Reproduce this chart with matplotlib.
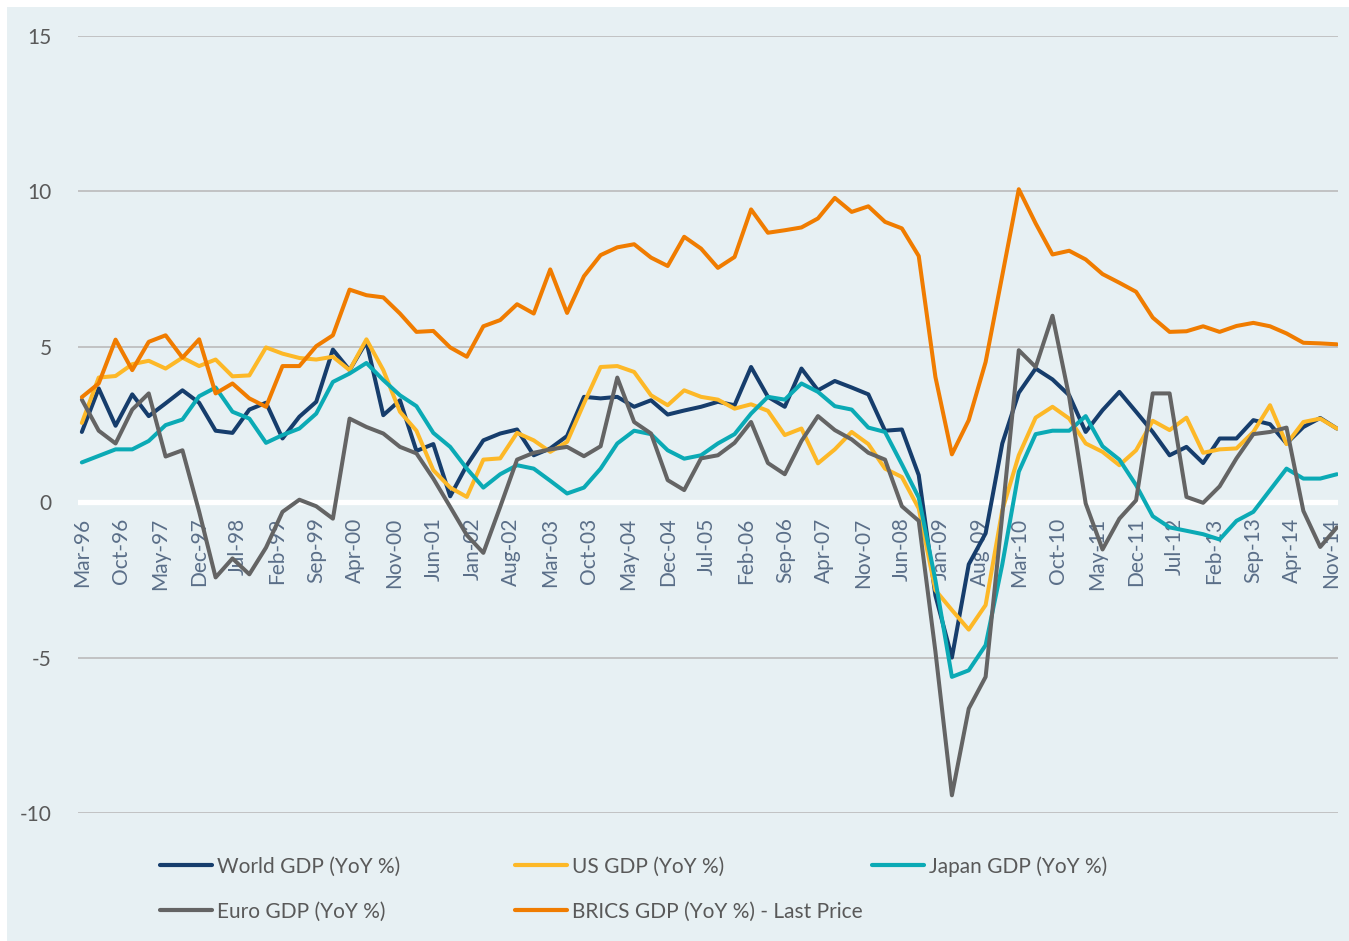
import matplotlib
matplotlib.use("Agg")
import matplotlib.pyplot as plt
from matplotlib.lines import Line2D
from matplotlib.patches import Rectangle
from matplotlib import font_manager
import pandas as pd

# ---------------- data ----------------
start_date = "1996-03-01"
n_points = 76
tick_labels = ["Mar-96", "Oct-96", "May-97", "Dec-97", "Jul-98", "Feb-99", "Sep-99",
               "Apr-00", "Nov-00", "Jun-01", "Jan-02", "Aug-02", "Mar-03", "Oct-03",
               "May-04", "Dec-04", "Jul-05", "Feb-06", "Sep-06", "Apr-07", "Nov-07",
               "Jun-08", "Jan-09", "Aug-09", "Mar-10", "Oct-10", "May-11", "Dec-11",
               "Jul-12", "Feb-13", "Sep-13", "Apr-14", "Nov-14"]
y_ticks = [-10, -5, 0, 5, 10, 15]

world = [2.26, 3.66, 2.46, 3.47, 2.77, 3.18, 3.60, 3.20, 2.30, 2.23,
         2.98, 3.20, 2.05, 2.75, 3.23, 4.91, 4.25, 5.16, 2.80, 3.28,
         1.65, 1.87, 0.19, 1.19, 1.99, 2.21, 2.34, 1.51, 1.73, 2.13,
         3.39, 3.34, 3.39, 3.07, 3.28, 2.82, 2.95, 3.07, 3.23, 3.12,
         4.35, 3.39, 3.07, 4.30, 3.60, 3.90, 3.69, 3.47, 2.30, 2.34,
         0.87, -3.00, -5.00, -2.00, -1.00, 1.89, 3.52, 4.30, 3.95, 3.44,
         2.26, 2.96, 3.55, 2.91, 2.26, 1.51, 1.78, 1.26, 2.05, 2.05,
         2.64, 2.51, 1.89, 2.42, 2.71, 2.37]
us = [2.55, 4.01, 4.06, 4.44, 4.55, 4.30, 4.65, 4.38, 4.59, 4.05,
      4.08, 4.98, 4.78, 4.64, 4.59, 4.68, 4.25, 5.24, 4.25, 2.91,
      2.30, 1.03, 0.47, 0.17, 1.37, 1.41, 2.23, 1.99, 1.62, 1.94,
      3.18, 4.35, 4.38, 4.19, 3.44, 3.12, 3.60, 3.39, 3.30, 3.01,
      3.15, 2.94, 2.16, 2.37, 1.25, 1.70, 2.26, 1.87, 1.08, 0.81,
      -0.20, -2.83, -3.47, -4.10, -3.31, -0.26, 1.51, 2.72, 3.07, 2.69,
      1.89, 1.62, 1.19, 1.67, 2.62, 2.32, 2.72, 1.59, 1.70, 1.73,
      2.26, 3.12, 1.87, 2.58, 2.69, 2.37]
japan = [1.28, 1.49, 1.70, 1.70, 1.97, 2.48, 2.66, 3.41, 3.69, 2.91,
         2.69, 1.91, 2.16, 2.37, 2.85, 3.87, 4.14, 4.48, 3.93, 3.44,
         3.09, 2.23, 1.78, 1.08, 0.47, 0.90, 1.19, 1.08, 0.69, 0.28,
         0.47, 1.08, 1.89, 2.30, 2.19, 1.67, 1.40, 1.51, 1.89, 2.19,
         2.85, 3.39, 3.30, 3.82, 3.55, 3.09, 2.98, 2.40, 2.26, 1.22,
         0.15, -2.51, -5.62, -5.41, -4.60, -2.00, 0.98, 2.19, 2.30, 2.30,
         2.77, 1.80, 1.37, 0.55, -0.45, -0.81, -0.92, -1.03, -1.20, -0.60,
         -0.31, 0.39, 1.08, 0.76, 0.76, 0.90]
euro = [3.30, 2.30, 1.89, 2.98, 3.50, 1.47, 1.67, -0.30, -2.42, -1.81,
        -2.32, -1.46, -0.31, 0.08, -0.13, -0.53, 2.69, 2.42, 2.21, 1.78,
        1.57, 0.76, -0.15, -1.06, -1.63, -0.15, 1.37, 1.59, 1.70, 1.78,
        1.48, 1.80, 4.01, 2.58, 2.21, 0.71, 0.39, 1.41, 1.51, 1.91,
        2.58, 1.26, 0.90, 1.97, 2.77, 2.32, 2.02, 1.59, 1.37, -0.13,
        -0.60, -4.80, -9.43, -6.64, -5.62, -0.40, 4.89, 4.35, 6.00, 3.39,
        -0.04, -1.52, -0.53, 0.06, 3.50, 3.50, 0.17, -0.02, 0.51, 1.41,
        2.19, 2.26, 2.40, -0.28, -1.44, -0.81]
brics = [3.38, 3.82, 5.23, 4.25, 5.16, 5.37, 4.65, 5.24, 3.50, 3.82,
         3.34, 3.07, 4.38, 4.38, 5.02, 5.37, 6.84, 6.66, 6.59, 6.07,
         5.48, 5.51, 4.98, 4.68, 5.66, 5.86, 6.37, 6.07, 7.49, 6.09,
         7.27, 7.95, 8.20, 8.30, 7.87, 7.60, 8.54, 8.16, 7.54, 7.89,
         9.42, 8.67, 8.75, 8.84, 9.13, 9.79, 9.34, 9.52, 9.02, 8.81,
         7.92, 4.03, 1.54, 2.64, 4.51, 7.30, 10.07, 8.97, 7.97, 8.09,
         7.81, 7.34, 7.06, 6.77, 5.94, 5.48, 5.50, 5.66, 5.48, 5.67,
         5.77, 5.66, 5.43, 5.13, 5.11, 5.08]

series_names = ["World GDP (YoY %)", "US GDP (YoY %)", "Japan GDP (YoY %)",
                "Euro GDP (YoY %)", "BRICS GDP (YoY %) - Last Price"]
series_values = [world, us, japan, euro, brics]
series_colors = ["#163D6C", "#FDB827", "#0BAAB5", "#646464", "#F07C00"]

# ---------------- font ----------------
available = {f.name for f in font_manager.fontManager.ttflist}
font = next((f for f in ["Lato", "Open Sans", "Liberation Sans", "DejaVu Sans"] if f in available), "DejaVu Sans")
plt.rcParams["font.family"] = [font, "DejaVu Sans"]

dates = pd.date_range(start_date, periods=n_points, freq="3MS")
tick_dates = pd.date_range(start_date, periods=len(tick_labels), freq="7MS")

W, H = 1349, 941
fig = plt.figure(figsize=(W / 100, H / 100), dpi=100, facecolor="white")
bg = "#E7F0F3"
fig.patches.append(Rectangle((7 / W, 0), 1 - 7 / W, 1 - 7 / H, transform=fig.transFigure,
                             facecolor=bg, edgecolor="none", zorder=-10))

ax_left, ax_right = 78 / W, 1338 / W
ax_bottom, ax_top = (H - 813) / H, (H - 36) / H
ax = fig.add_axes([ax_left, ax_bottom, ax_right - ax_left, ax_top - ax_bottom])
ax.set_facecolor("none")
ax.set_zorder(5)

# axis placement first (set_position resets tick styling)
ax.spines["bottom"].set_position(("data", 0))
for s in ax.spines.values():
    s.set_visible(False)

for name, vals, col in zip(series_names, series_values, series_colors):
    ax.plot(dates, vals, color=col, lw=2.9, solid_joinstyle="round",
            solid_capstyle="round", label=name, zorder=3)

ax.set_ylim(-10, 15)
ax.set_xlim(dates[0] - pd.Timedelta(days=21), dates[-1] + pd.Timedelta(days=6))
ax.set_yticks(y_ticks)
ax.set_yticklabels([str(v) for v in y_ticks])
for v in y_ticks:
    if v != 0:
        ax.axhline(v, color="#BFBFBF", lw=1.3, zorder=1)
ax.axhline(0, color="white", lw=3.8, zorder=2)

ax.set_xticks(tick_dates)
ax.set_xticklabels(tick_labels)
ax.tick_params(axis="x", length=0, pad=11, labelsize=15, labelcolor="#5A6E88",
               labelrotation=90)
for lab in ax.get_xticklabels():
    lab.set_ha("center")
    lab.set_va("top")
ax.tick_params(axis="y", length=0, pad=19, labelsize=15, labelcolor="#595959")

# legend (manual, two rows x three columns)
legend_pos = [(160, 865), (515, 865), (872, 865), (160, 910), (515, 910)]
for (lx, ly), name, col in zip(legend_pos, series_names, series_colors):
    fig.add_artist(Line2D([lx / W, (lx + 52) / W], [1 - ly / H, 1 - ly / H],
                          transform=fig.transFigure, color=col, lw=3.0,
                          solid_capstyle="round"))
    fig.text((lx + 57) / W, 1 - ly / H, name, ha="left", va="center_baseline",
             fontsize=15, color="#595959")

fig.savefig("out.png", dpi=100, facecolor="white")
